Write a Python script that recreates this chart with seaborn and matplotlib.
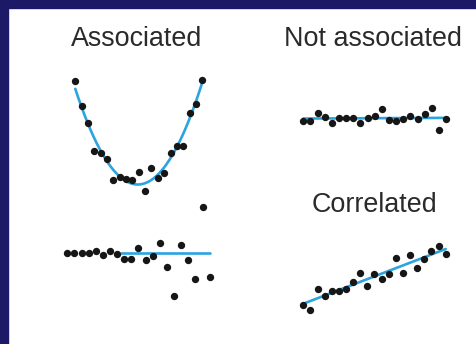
import numpy as np
import pandas as pd
import matplotlib
matplotlib.use("Agg")
import matplotlib.pyplot as plt
from matplotlib.patches import Rectangle
import seaborn as sns

# ---- data -------------------------------------------------------------
idx = list(range(21))

# U-shaped relationship: associated but not correlated
assoc_y = [11.0, 8.53, 6.77, 4.0, 3.77, 3.23, 1.1, 1.4, 1.2, 1.1, 1.87,
           0.03, 2.33, 1.27, 1.83, 3.83, 4.53, 4.47, 7.8, 8.73, 11.07]

# no relationship at all
none_y = [1.43, 1.43, 2.17, 1.83, 1.23, 1.67, 1.67, 1.67, 1.17, 1.67, 1.9,
          2.63, 1.5, 1.43, 1.57, 1.9, 1.57, 2.07, 2.73, 0.47, 1.57]

# spread grows with x: associated through the variance
spread_y = [4.67, 4.7, 4.7, 4.7, 4.9, 4.5, 4.9, 4.57, 4.1, 4.1, 5.2,
            3.97, 4.37, 5.67, 3.3, 0.43, 5.53, 4.03, 2.07, 9.33, 2.27]
spread_ref_level = 4.75
spread_ref_span = [7.5, 20.0]

# linear trend
corr_y = [1.53, 1.0, 3.07, 2.37, 2.9, 2.9, 3.07, 3.77, 4.7, 3.43, 4.57,
          4.13, 4.63, 6.23, 4.67, 6.53, 5.23, 6.07, 6.87, 7.37, 6.57]

titles = ["Associated", "Not associated", "Correlated"]

# ---- styling ------------------------------------------------------------
sns.set_theme(style="white")
plt.rcParams["font.family"] = ["Liberation Sans", "DejaVu Sans"]

W, H = 477, 344
fig = plt.figure(figsize=(W / 100, H / 100), dpi=100, facecolor="white")

NAVY = "#1c1a66"
BLUE = "#2ba4df"
DOT = "#161616"
TXT = "#2a2a2a"

fig.patches.append(Rectangle((0, 1 - 7.5 / H), 1, 7.5 / H,
                             transform=fig.transFigure, color=NAVY, zorder=0))
fig.patches.append(Rectangle((0, 0), 8 / W, 1,
                             transform=fig.transFigure, color=NAVY, zorder=0))


def panel(left, top, width, height):
    """Axes placed by pixel box (origin top-left)."""
    ax = fig.add_axes([left / W, 1 - (top + height) / H, width / W, height / H])
    ax.set_axis_off()
    return ax


dot_kws = dict(s=28, color=DOT, linewidth=0, zorder=3)
line_kws = dict(color=BLUE, linewidth=1.9, zorder=2)

# top left: quadratic
ax1 = panel(68.95, 66, 139.7, 135)
sns.regplot(x=idx, y=assoc_y, order=2, ci=None, scatter=False,
            line_kws=line_kws, ax=ax1)
sns.scatterplot(x=idx, y=assoc_y, ax=ax1, **dot_kws)
ax1.set_xlim(-1, 21)
ax1.set_ylim(-1, 12.5)

# top right: flat
ax2 = panel(296.16, 95, 157.1, 50)
sns.regplot(x=idx, y=none_y, ci=None, scatter=False,
            line_kws=line_kws, ax=ax2)
sns.scatterplot(x=idx, y=none_y, ax=ax2, **dot_kws)
ax2.set_xlim(-1, 21)
ax2.set_ylim(-1, 4)

# bottom left: widening spread
ax3 = panel(60.18, 190, 156.6, 120)
sns.lineplot(x=spread_ref_span, y=[spread_ref_level] * 2, ax=ax3, **line_kws)
sns.scatterplot(x=idx, y=spread_y, ax=ax3, **dot_kws)
ax3.set_xlim(-1, 21)
ax3.set_ylim(-1, 11)

# bottom right: linear
ax4 = panel(296.18, 230, 156.6, 100)
sns.regplot(x=idx, y=corr_y, ci=None, scatter=False,
            line_kws=line_kws, ax=ax4)
sns.scatterplot(x=idx, y=corr_y, ax=ax4, **dot_kws)
ax4.set_xlim(-1, 21)
ax4.set_ylim(-1, 9)

for ax in (ax1, ax2, ax3, ax4):
    ax.set_axis_off()

title_pos = [(137, 46), (373.3, 46), (374.5, 212)]
for t, (px, py) in zip(titles, title_pos):
    fig.text(px / W, 1 - py / H, t, ha="center", va="baseline",
             fontsize=19.4, color=TXT)

fig.savefig("out.png", dpi=100, facecolor="white")
